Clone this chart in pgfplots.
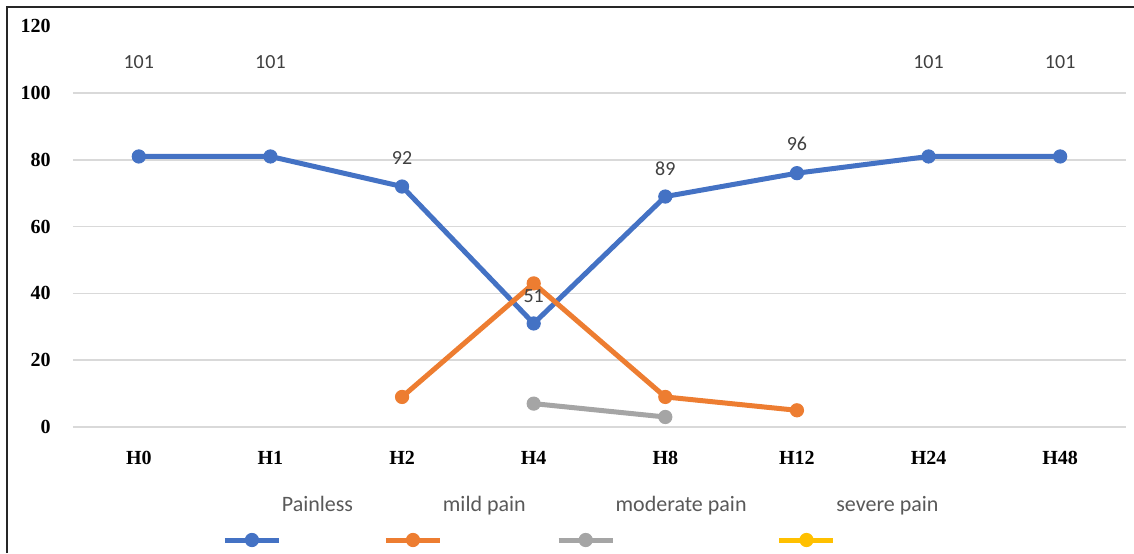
\documentclass[border=0pt]{standalone}
\usepackage{fontspec}
\setmainfont{Liberation Serif}
\newfontfamily\calibri{Carlito}
\usepackage{pgfplots}
\pgfplotsset{compat=1.18}
\definecolor{cblue}{HTML}{4472C4}
\definecolor{corange}{HTML}{ED7D31}
\definecolor{cgray}{HTML}{A5A5A5}
\definecolor{cyellow}{HTML}{FFC000}
\definecolor{gridc}{HTML}{D9D9D9}
\definecolor{labc}{HTML}{404040}
\definecolor{legc}{HTML}{595959}
\begin{document}
\begin{tikzpicture}
\path[use as bounding box] (0,0) rectangle (567pt,276.5pt);
\draw[line width=1pt, black!85] (3.5pt,0) -- (3.5pt,273pt) -- (567pt,273pt);
\begin{axis}[
  at={(36.5pt,63pt)}, anchor=south west,
  scale only axis, width=526.5pt, height=200.4pt,
  xmin=-0.5, xmax=7.5, ymin=0, ymax=120,
  xtick={0,...,7}, xticklabels={H0,H1,H2,H4,H8,H12,H24,H48},
  ytick={0,20,...,100},
  extra y ticks={120}, extra y tick style={grid=none},
  ymajorgrids, grid style={draw=gridc, line width=0.75pt},
  axis line style={draw=none}, major tick length=0pt,
  tick label style={font=\fontsize{10}{12}\selectfont\bfseries},
  /pgf/number format/assume math mode=true,
  yticklabel style={xshift=-7.7pt},
  xticklabel style={yshift=-8.7pt},
  clip=false,
  legend columns=4,
  legend cell align=left,
  legend style={draw=none, fill=none, inner sep=0pt, at={(0.1894,-0.1946)}, anchor=west,
    font=\calibri\fontsize{11}{13}\selectfont, text=legc,
    /tikz/every odd column/.append style={column sep=0pt},
    /tikz/every even column/.append style={column sep=38.4pt}},
  legend image code/.code={
    \path (0,0);
    \draw[overlay, #1, mark repeat=2, mark phase=2] plot coordinates {(-25.2pt,-17.5pt) (-11.7pt,-17.5pt) (1.8pt,-17.5pt)};
  },
  every axis plot/.append style={line width=2.5pt, mark=*, mark size=3.3pt},
]
\addplot[cblue, mark options={fill=cblue, draw=cblue, line width=0.5pt}] coordinates {(0,81) (1,81) (2,72) (3,31) (4,69) (5,76) (6,81) (7,81)};
\addlegendentry{Painless}
\addplot[corange, mark options={fill=corange, draw=corange, line width=0.5pt}] coordinates {(2,9) (3,43) (4,9) (5,5)};
\addlegendentry{mild pain}
\addplot[cgray, mark options={fill=cgray, draw=cgray, line width=0.5pt}] coordinates {(3,7) (4,3)};
\addlegendentry{moderate pain}
\addlegendimage{cyellow, line width=2.5pt, mark=*, mark size=3.3pt, mark options={fill=cyellow, draw=cyellow, line width=0.5pt}}
\addlegendentry{severe pain}
\addplot[draw=none, mark=none, forget plot, nodes near coords, point meta=explicit symbolic,
  nodes near coords align={center},
  every node near coord/.append style={font=\calibri\fontsize{10}{12}\selectfont, text=labc}]
  table[meta=lab] {
x y lab
0 109.2 101
1 109.2 101
2 80.5 92
3 39.3 51
4 77.2 89
5 84.7 96
6 109.2 101
7 109.2 101
};
\end{axis}
\end{tikzpicture}
\end{document}
